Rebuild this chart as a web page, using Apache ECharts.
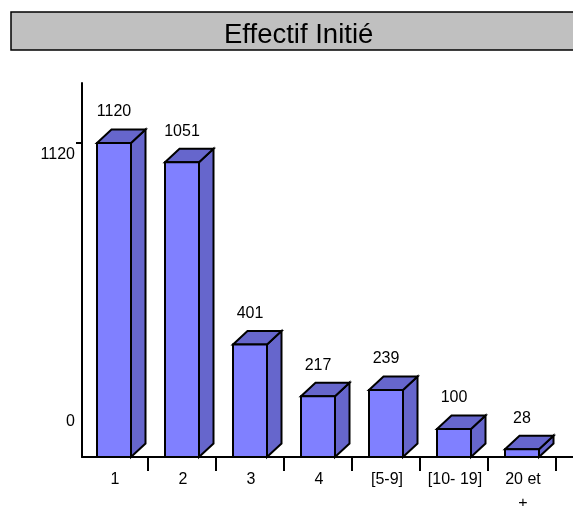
<!DOCTYPE html>
<html><head><meta charset="utf-8">
<style>html,body{margin:0;padding:0;background:#fff}#c{width:573px;height:506px}</style>
<script src="https://cdn.jsdelivr.net/npm/echarts@6/dist/echarts.min.js"></script>
</head><body><div id="c"></div>
<script>
const titleText = 'Effectif Initié';
const categories = ['1','2','3','4','[5-9]','[10- 19]','20 et\n+'];
const values = [1120,1051,401,217,239,100,28];
const yLabels = [0,1120];
const yTicks = [1120];
const FONT = '"Liberation Sans", Arial, sans-serif';
const chart = echarts.init(document.getElementById('c'));
function renderBar(params, api){
  const x = api.value(0), v = api.value(1);
  const bw = 34, dx = 14.5, dy = 13.5;
  const p0 = api.coord([x,0]), p1 = api.coord([x,v]);
  const l = p0[0]-bw/2, r = p0[0]+bw/2, b = p0[1], t = p1[1];
  const st = {stroke:'#000', lineWidth:2, lineJoin:'miter'};
  return {type:'group', children:[
    {type:'polygon', shape:{points:[[r,t],[r+dx,t-dy],[r+dx,b-dy],[r,b]]}, style:{fill:'#6666CC',...st}},
    {type:'polygon', shape:{points:[[l,t],[l+dx,t-dy],[r+dx,t-dy],[r,t]]}, style:{fill:'#6666CC',...st}},
    {type:'rect', shape:{x:l,y:t,width:bw,height:b-t}, style:{fill:'#8080FF',...st}},
    {type:'text', x:p0[0], y:t-31, style:{text:String(v), fill:'#000', font:'16px '+FONT, align:'center', verticalAlign:'middle'}}
  ]};
}
chart.setOption({
  animation:false,
  backgroundColor:'#fff',
  title:{text:titleText, left:11, top:12, backgroundColor:'#C0C0C0', borderColor:'#000', borderWidth:1.5,
    padding:[9,230,1,213],
    textStyle:{fontFamily:FONT, fontSize:27.5, fontWeight:'normal', color:'#000'}},
  grid:[{left:80,width:476,top:83,height:374,outerBoundsMode:'none'},{left:82,right:0,top:83,height:374,outerBoundsMode:'none'}],
  xAxis:[
    {type:'category', gridIndex:0, data:categories,
     axisLine:{show:false},
     axisTick:{show:true, length:14, interval:(i)=>i>0, lineStyle:{color:'#000',width:2}},
     axisLabel:{interval:0, margin:11, padding:[0,0,0,2], color:'#000', fontFamily:FONT, fontSize:16, lineHeight:24}},
    {type:'category', gridIndex:1, data:[], axisTick:{show:false}, axisLabel:{show:false},
     axisLine:{lineStyle:{color:'#000',width:2}}}
  ],
  yAxis:[
    {type:'value', gridIndex:0, min:0, max:1334, offset:-2, splitLine:{show:false},
     axisLine:{show:true, lineStyle:{color:'#000',width:2}},
     axisTick:{show:true, length:6, customValues:yTicks, lineStyle:{color:'#000',width:2}},
     axisLabel:{customValues:yLabels, margin:7, color:'#000', fontFamily:FONT, fontSize:16,
       formatter:(v)=> v===0 ? '{z|0}' : '{t|'+v+'}',
       rich:{z:{padding:[0,0,70,0], fontSize:16, fontFamily:FONT, color:'#000'},
             t:{padding:[24,0,0,0], fontSize:16, fontFamily:FONT, color:'#000'}}}},
    {type:'value', gridIndex:1, show:false}
  ],
  series:[{type:'custom', xAxisIndex:0, yAxisIndex:0, clip:false, renderItem:renderBar,
    data:values.map((v,i)=>[i,v])}]
});
</script></body></html>
